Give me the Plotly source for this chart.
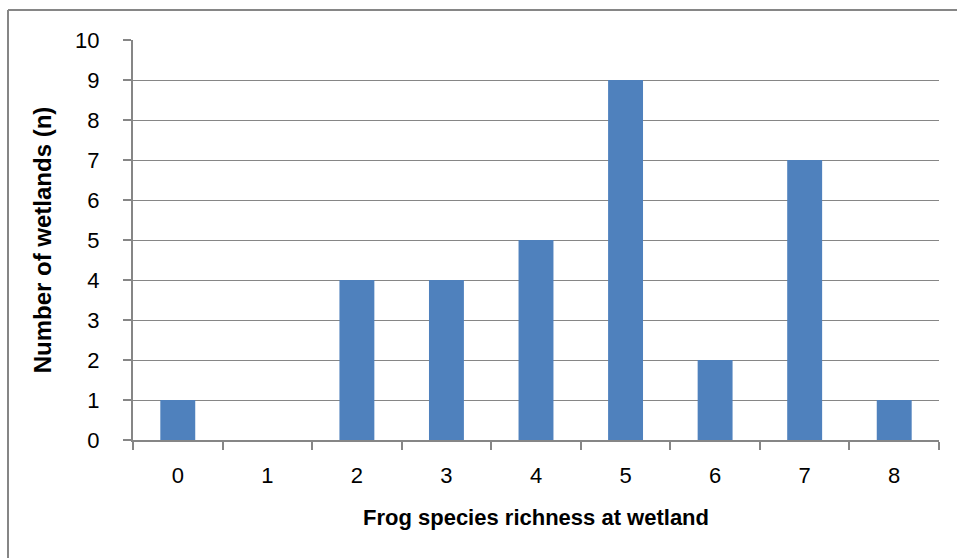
import plotly.graph_objects as go

categories = ["0", "1", "2", "3", "4", "5", "6", "7", "8"]
counts = [1, 0, 4, 4, 5, 9, 2, 7, 1]
y_ticks = list(range(0, 11))

FONT = "Liberation Sans"
GRID = "#868686"

fig = go.Figure(go.Bar(x=categories, y=counts, marker=dict(color="#4F81BD", line=dict(width=0))))

fig.update_layout(
    width=957, height=558,
    margin=dict(l=133, r=18, t=40, b=118),
    paper_bgcolor="white", plot_bgcolor="white",
    bargap=0.61,
    showlegend=False,
    font=dict(family=FONT, size=22, color="black"),
    xaxis=dict(
        type="category", tickson="boundaries", ticks="outside", ticklen=8, tickcolor=GRID, tickwidth=2,
        showline=True, linecolor=GRID, linewidth=2, showgrid=False,
        tickfont=dict(size=22), ticklabelstandoff=15,
        title=dict(text="<b>Frog species richness at wetland</b>", font=dict(size=22), standoff=22),
    ),
    yaxis=dict(
        range=[0, 10], tickvals=y_ticks, ticks="outside", ticklen=8, tickcolor=GRID, tickwidth=2,
        showline=True, linecolor=GRID, linewidth=2, showgrid=True, gridcolor=GRID, gridwidth=1,
        zeroline=False, tickfont=dict(size=22), ticklabelstandoff=19,
        title=dict(text="<b>Number of wetlands (n)</b>", font=dict(size=24), standoff=17),
    ),
    shapes=[
        dict(type="line", xref="paper", yref="paper", x0=-125/806, x1=1.1, y0=1 + 30/400, y1=1 + 30/400,
             line=dict(color=GRID, width=2)),
        dict(type="line", xref="paper", yref="paper", x0=-125/806, x1=-125/806, y0=1 + 30/400, y1=-0.4,
             line=dict(color=GRID, width=2)),
    ],
)

fig.write_html("out.html", config={"displayModeBar": False},
               post_script="document.body.style.margin='0';")
